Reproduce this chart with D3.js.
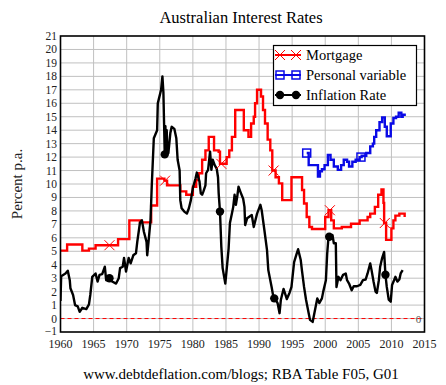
<!DOCTYPE html>
<html>
<head>
<meta charset="utf-8">
<script src="https://cdn.jsdelivr.net/npm/d3@7"></script>
<style>
  body { margin: 0; background: #fff; }
  text { font-family: "Liberation Serif", "DejaVu Serif", serif; }
</style>
</head>
<body>
<div id="chart"></div>
<script>
// tick labels
var xTicks = [1960, 1965, 1970, 1975, 1980, 1985, 1990, 1995, 2000, 2005, 2010, 2015];
var yTicks = d3.range(-1, 22);

// series: [year, percent]
var mortgage = [
  [1960.0, 5.05], [1961.0, 5.5], [1963.3, 5.05], [1964.3, 5.2], [1965.3, 5.45],
  [1968.7, 5.9], [1970.4, 7.3], [1972.0, 7.15], [1973.7, 8.4], [1974.6, 10.4],
  [1975.7, 10.25], [1976.1, 9.9], [1978.1, 9.45], [1979.0, 9.2], [1980.0, 9.8],
  [1980.5, 10.3], [1980.9, 10.8], [1981.4, 11.8], [1981.9, 12.5], [1982.4, 13.5],
  [1983.2, 12.5], [1983.9, 12.4], [1984.1, 11.5], [1985.1, 12.0], [1985.5, 12.5],
  [1985.9, 13.5], [1986.4, 15.5], [1987.7, 14.0], [1988.4, 13.5], [1988.8, 14.5],
  [1989.2, 15.0], [1989.4, 16.0], [1989.7, 17.0], [1990.3, 16.5], [1990.6, 15.5],
  [1990.9, 14.5], [1991.3, 13.3], [1991.7, 12.5], [1992.0, 11.0], [1992.5, 10.5],
  [1993.0, 10.05], [1993.5, 8.8], [1994.9, 10.5], [1996.5, 9.55], [1996.8, 8.55],
  [1997.2, 7.55], [1997.6, 6.8], [1998.0, 6.65], [2000.0, 7.55], [2000.5, 8.05],
  [2000.9, 7.3], [2001.3, 6.7], [2002.5, 6.8], [2003.9, 7.05], [2005.2, 7.3],
  [2006.4, 7.55], [2006.8, 7.8], [2007.5, 8.3], [2008.0, 9.2], [2008.5, 9.6],
  [2008.8, 8.6], [2008.9, 7.1], [2009.2, 5.85], [2010.0, 6.7], [2010.3, 7.3],
  [2010.6, 7.65], [2011.2, 7.8], [2012.0, 7.55]
];

var personal = [
  [1997.2, 12.3], [1997.5, 11.4], [1998.9, 10.55], [1999.2, 10.95], [1999.5, 11.1],
  [1999.9, 11.4], [2000.4, 12.15], [2000.8, 11.8], [2001.3, 11.3], [2001.9, 11.05],
  [2002.4, 11.4], [2002.8, 11.8], [2003.3, 11.65], [2003.6, 11.3], [2004.1, 11.65],
  [2004.6, 11.8], [2005.2, 12.0], [2005.5, 12.1], [2006.2, 12.3], [2006.8, 12.8],
  [2007.2, 13.0], [2007.4, 13.5], [2007.7, 14.0], [2008.2, 14.6], [2008.6, 14.95],
  [2009.0, 14.25], [2009.3, 13.55], [2009.9, 14.5], [2010.3, 14.9], [2010.7, 15.0],
  [2011.1, 15.3], [2011.5, 15.0], [2011.7, 15.15], [2012.0, 15.05]
];

var inflation = [
  [1960.0, 1.3], [1960.1, 3.15], [1960.75, 3.35], [1961.1, 3.55], [1961.4, 2.85],
  [1961.5, 2.25], [1961.9, 1.75], [1962.2, 1.0], [1962.6, 0.9], [1962.9, 0.5],
  [1963.3, 0.8], [1963.9, 0.7], [1964.3, 1.05], [1964.5, 1.75], [1964.8, 3.1],
  [1965.3, 3.35], [1965.6, 2.75], [1965.9, 3.25], [1966.3, 3.3], [1966.7, 3.85],
  [1966.9, 2.85], [1967.4, 3.0], [1967.8, 2.75], [1968.4, 2.6], [1968.8, 3.0],
  [1969.0, 3.75], [1969.4, 3.85], [1969.6, 4.5], [1969.9, 3.5], [1970.3, 4.5],
  [1970.6, 4.1], [1971.0, 4.7], [1971.4, 4.85], [1971.6, 5.7], [1972.0, 7.1],
  [1972.3, 7.3], [1972.6, 6.45], [1973.0, 5.7], [1973.1, 4.7], [1973.3, 5.7],
  [1973.6, 7.3], [1973.8, 10.0], [1974.1, 13.4], [1974.6, 14.0], [1974.7, 16.0],
  [1974.9, 16.4], [1975.2, 17.0], [1975.4, 18.0], [1975.55, 16.8], [1975.65, 14.5],
  [1975.75, 12.2], [1975.85, 14.3], [1975.95, 12.1], [1976.05, 14.0], [1976.15, 12.3],
  [1976.3, 12.3], [1976.6, 13.8], [1976.8, 14.25], [1977.2, 14.1], [1977.5, 13.4],
  [1977.7, 11.8], [1978.0, 11.0], [1978.1, 8.8], [1978.3, 8.2], [1978.7, 7.95],
  [1979.1, 7.8], [1979.4, 8.2], [1979.7, 8.8], [1980.0, 9.7], [1980.4, 10.4],
  [1980.6, 10.85], [1981.0, 10.2], [1981.2, 9.3], [1981.4, 9.2], [1981.6, 9.45],
  [1981.9, 9.9], [1982.0, 10.8], [1982.3, 11.05], [1982.6, 12.4], [1982.8, 11.05],
  [1983.0, 11.8], [1983.3, 11.4], [1983.6, 11.15], [1983.8, 10.5], [1983.9, 9.3],
  [1984.1, 7.95], [1984.3, 5.35], [1984.5, 3.75], [1984.9, 2.6], [1985.1, 3.6],
  [1985.4, 5.2], [1985.6, 7.1], [1985.9, 7.8], [1986.1, 8.3], [1986.3, 9.2],
  [1986.5, 8.45], [1986.7, 9.05], [1986.9, 9.8], [1987.2, 9.4], [1987.6, 8.9],
  [1987.8, 8.3], [1987.9, 6.95], [1988.2, 7.45], [1988.9, 7.7], [1989.2, 6.8],
  [1989.7, 7.8], [1990.2, 8.45], [1990.4, 8.05], [1990.8, 6.6], [1991.2, 5.1],
  [1991.4, 3.6], [1991.9, 2.35], [1992.2, 1.5], [1992.4, 1.5], [1992.8, 1.15],
  [1993.1, 0.4], [1993.3, 1.4], [1993.7, 2.2], [1993.9, 1.9], [1994.2, 1.45],
  [1994.6, 1.9], [1994.9, 2.35], [1995.3, 4.2], [1995.7, 4.85], [1995.9, 5.15],
  [1996.3, 4.35], [1996.5, 3.5], [1996.8, 2.35], [1997.1, 1.4], [1997.5, 0.4],
  [1997.7, -0.1], [1998.1, -0.25], [1998.5, 0.75], [1998.8, 1.5], [1999.1, 1.15],
  [1999.5, 1.5], [1999.7, 2.0], [2000.1, 2.85], [2000.3, 4.85], [2000.5, 6.1],
  [2000.7, 6.05], [2001.1, 6.2], [2001.3, 5.6], [2001.6, 5.6], [2001.7, 2.35],
  [2002.0, 3.1], [2002.3, 2.85], [2002.7, 3.25], [2003.1, 3.35], [2003.3, 2.85],
  [2003.6, 2.6], [2004.0, 2.1], [2004.3, 2.4], [2004.8, 2.4], [2005.3, 2.5],
  [2005.7, 2.85], [2006.1, 2.9], [2006.4, 3.35], [2006.8, 4.1], [2007.0, 3.6],
  [2007.3, 2.75], [2007.6, 2.0], [2007.8, 1.9], [2008.1, 2.85], [2008.3, 3.85],
  [2008.6, 4.5], [2008.9, 4.95], [2009.1, 3.25], [2009.3, 2.35], [2009.6, 1.4],
  [2009.9, 1.25], [2010.1, 2.5], [2010.4, 2.85], [2010.6, 3.1], [2010.9, 2.75],
  [2011.2, 2.9], [2011.4, 3.35], [2011.7, 3.6]
];

// years where the series carry a marker
var mortgageMarks = [1967.4, 1975.8, 1984.3, 1992.2, 2000.7, 2009.0];
var personalMarks = [1997.2, 2005.4];
var inflationMarks = [1967.4, 1975.75, 1984.1, 1992.3, 2000.6, 2009.1];

var width = 446, height = 385;
var svg = d3.select("#chart").append("svg")
    .attr("width", width)
    .attr("height", height);

var x = d3.scaleLinear().domain([1960, 2015]).range([60.5, 424.5]);
var y = d3.scaleLinear().domain([-1, 21]).range([332, 36]);

// grid
svg.append("g").selectAll("line").data(xTicks.slice(1, -1)).join("line")
    .attr("x1", d => x(d)).attr("x2", d => x(d))
    .attr("y1", y(21)).attr("y2", y(-1))
    .attr("stroke", "#c0c0c0").attr("stroke-width", 1);
svg.append("g").selectAll("line").data(yTicks.slice(1, -1)).join("line")
    .attr("x1", x(1960)).attr("x2", x(2015))
    .attr("y1", d => y(d)).attr("y2", d => y(d))
    .attr("stroke", "#c0c0c0").attr("stroke-width", 1);

// zero line
svg.append("line")
    .attr("x1", x(1960)).attr("x2", x(2015))
    .attr("y1", y(0)).attr("y2", y(0))
    .attr("stroke", "#ff0000").attr("stroke-width", 1)
    .attr("stroke-dasharray", "4,3");
svg.append("text")
    .attr("x", x(2015) - 6).attr("y", y(0) + 4)
    .attr("text-anchor", "middle")
    .style("font-size", "11px").attr("fill", "#555")
    .text("0");

svg.append("clipPath").attr("id", "plot")
  .append("rect")
    .attr("x", x(1960)).attr("y", y(21))
    .attr("width", x(2015) - x(1960)).attr("height", y(-1) - y(21));

var plot = svg.append("g").attr("clip-path", "url(#plot)");

var stepLine = d3.line().x(d => x(d[0])).y(d => y(d[1])).curve(d3.curveStepAfter);
var plainLine = d3.line().x(d => x(d[0])).y(d => y(d[1]));

plot.append("path").datum(mortgage)
    .attr("d", stepLine).attr("fill", "none")
    .attr("stroke", "#ff0000").attr("stroke-width", 2.4);
plot.append("path").datum(personal)
    .attr("d", stepLine).attr("fill", "none")
    .attr("stroke", "#0a0ae6").attr("stroke-width", 2.4);
plot.append("path").datum(inflation)
    .attr("d", plainLine).attr("fill", "none")
    .attr("stroke", "#000").attr("stroke-width", 2.4)
    .attr("stroke-linejoin", "round");

// value of a series at a given year
function stepAt(data, yr) {
    var v = data[0][1];
    data.forEach(function (d) { if (d[0] <= yr) v = d[1]; });
    return v;
}
function lineAt(data, yr) {
    var i = d3.bisector(d => d[0]).left(data, yr);
    if (i <= 0) return data[0][1];
    if (i >= data.length) return data[data.length - 1][1];
    var a = data[i - 1], b = data[i];
    return a[1] + (b[1] - a[1]) * (yr - a[0]) / (b[0] - a[0]);
}

function drawCross(g, cx, cy) {
    g.append("path")
        .attr("d", "M" + (cx - 5) + "," + (cy - 5) + "L" + (cx + 5) + "," + (cy + 5) +
                   "M" + (cx - 5) + "," + (cy + 5) + "L" + (cx + 5) + "," + (cy - 5))
        .attr("stroke", "#ff0000").attr("stroke-width", 1).attr("fill", "none");
}
function drawSquare(g, cx, cy) {
    g.append("rect")
        .attr("x", cx - 4).attr("y", cy - 4).attr("width", 8).attr("height", 8)
        .attr("fill", "none").attr("stroke", "#0a0ae6").attr("stroke-width", 1.5);
}
function drawDot(g, cx, cy) {
    g.append("circle").attr("cx", cx).attr("cy", cy).attr("r", 4.2).attr("fill", "#000");
}

mortgageMarks.forEach(yr => drawCross(plot, x(yr), y(stepAt(mortgage, yr))));
personalMarks.forEach(yr => drawSquare(plot, x(yr), y(stepAt(personal, yr))));
inflationMarks.forEach(yr => drawDot(plot, x(yr), y(lineAt(inflation, yr))));

// frame
svg.append("rect")
    .attr("x", x(1960)).attr("y", y(21))
    .attr("width", x(2015) - x(1960)).attr("height", y(-1) - y(21))
    .attr("fill", "none").attr("stroke", "#000").attr("stroke-width", 1.6);

// tick labels
svg.append("g").selectAll("text").data(yTicks).join("text")
    .attr("x", 57).attr("y", d => y(d) + (d < 0 ? 3 : 4))
    .attr("text-anchor", "end")
    .style("font-size", "11.5px").attr("fill", "#222")
    .text(d => d < 0 ? "\u2212" + Math.abs(d) : d);
svg.append("g").selectAll("text").data(xTicks).join("text")
    .attr("x", d => x(d)).attr("y", 348)
    .attr("text-anchor", "middle")
    .style("font-size", "12px").attr("fill", "#222")
    .text(d => d);

// titles
svg.append("text")
    .attr("x", 241).attr("y", 23)
    .attr("text-anchor", "middle")
    .style("font-size", "16.5px")
    .text("Australian Interest Rates");
svg.append("text")
    .attr("transform", "translate(22,184) rotate(-90)")
    .attr("text-anchor", "middle")
    .style("font-size", "15px").attr("fill", "#222")
    .text("Percent p.a.");
svg.append("text")
    .attr("x", 241).attr("y", 379)
    .attr("text-anchor", "middle")
    .style("font-size", "15px")
    .text("www.debtdeflation.com/blogs; RBA Table F05, G01");

// legend
var legend = svg.append("g");
legend.append("rect")
    .attr("x", 273.5).attr("y", 45.5).attr("width", 143).attr("height", 60)
    .attr("fill", "#fff").attr("stroke", "#000").attr("stroke-width", 1.2);
var entries = [
    {name: "Mortgage", color: "#ff0000", mark: drawCross},
    {name: "Personal variable", color: "#0a0ae6", mark: drawSquare},
    {name: "Inflation Rate", color: "#000", mark: drawDot}
];
entries.forEach(function (e, i) {
    var cy = 55 + i * 20;
    legend.append("line")
        .attr("x1", 275).attr("x2", 301).attr("y1", cy).attr("y2", cy)
        .attr("stroke", e.color).attr("stroke-width", 2);
    e.mark(legend, 280, cy);
    e.mark(legend, 296, cy);
    legend.append("text")
        .attr("x", 306).attr("y", cy + 5)
        .style("font-size", "14.5px")
        .text(e.name);
});
</script>
</body>
</html>
